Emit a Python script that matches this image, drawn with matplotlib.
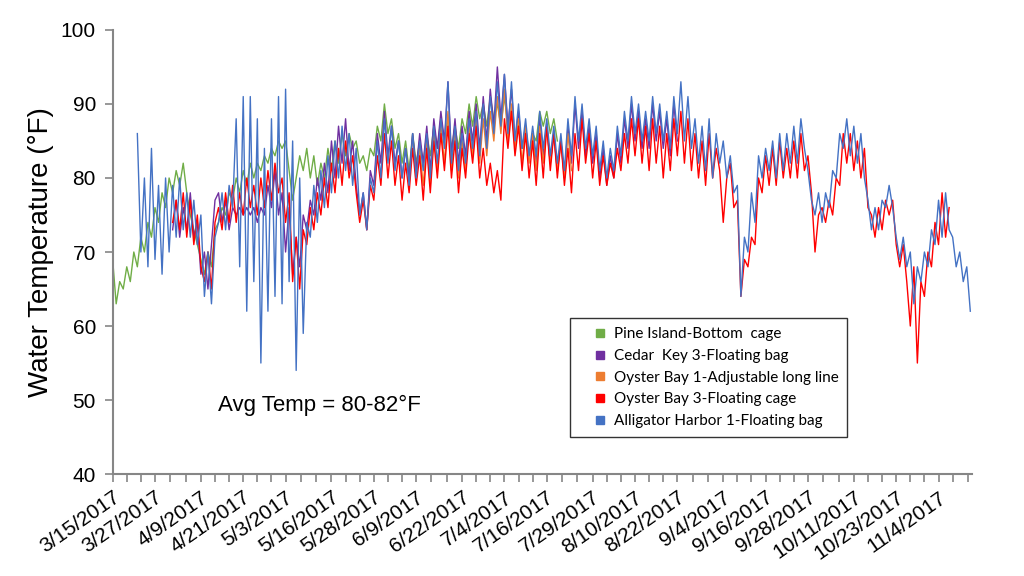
import numpy as np
import pandas as pd
import matplotlib
matplotlib.use('Agg')
import matplotlib.pyplot as plt
import matplotlib.dates as mdates
from matplotlib.lines import Line2D
from matplotlib.legend_handler import HandlerLine2D

plt.rcParams['font.family'] = ['Liberation Sans', 'DejaVu Sans']

# ----------
# Data (one reading per day)
#
green_start = '2017-03-15'   # Pine Island-Bottom cage
green_vals = [69, 63, 66, 65, 68, 66, 70, 68, 72, 70,
              74, 72, 76, 74, 78, 76, 80, 78, 81, 79,
              82, 78, 75, 73, 71, 69, 67, 70, 68, 73,
              74, 76, 75, 78, 77, 80, 78, 81, 79, 82,
              80, 82, 81, 83, 82, 84, 83, 85, 84, 85,
              81, 77, 80, 83, 81, 84, 80, 83, 79, 82,
              80, 84, 81, 85, 82, 86, 83, 86, 84, 85,
              82, 83, 81, 84, 83, 87, 85, 90, 86, 88,
              84, 86, 82, 85, 81, 86, 82, 85, 82, 86,
              83, 87, 84, 88, 85, 88, 84, 87, 84, 88,
              86, 90, 87, 91, 88, 90, 87, 91, 88, 90,
              87, 91, 87, 89, 85, 87, 84, 86, 83, 86,
              85, 89, 87, 89, 86, 88, 85]

purple_start = '2017-04-01'  # Cedar Key 3-Floating bag
purple_vals = [73, 77, 72, 76, 73, 78, 72, 74, 67, 70,
               65, 71, 77, 78, 74, 77, 73, 76, 75, 76,
               75, 76, 75, 76, 74, 76, 75, 79, 76, 81,
               75, 78, 70, 76, 67, 72, 68, 75, 73, 77,
               75, 80, 77, 82, 78, 85, 80, 87, 82, 88,
               81, 85, 79, 75, 78, 73, 81, 79, 86, 82,
               89, 83, 87, 82, 85, 80, 84, 80, 86, 81,
               86, 82, 87, 81, 88, 84, 89, 85, 93, 83,
               88, 82, 87, 83, 89, 85, 90, 84, 91, 85,
               92, 87, 95, 88, 94, 87, 92, 85, 89, 84,
               87, 83, 86, 82, 88, 83, 87, 82, 86, 81,
               85, 80, 87, 82, 90, 84, 89, 83, 87, 82,
               86, 80, 84, 79, 83, 80, 86, 82, 88, 84,
               90, 85, 89, 84, 88, 84, 90, 85, 89, 84,
               88, 83, 90, 85]

orange_start = '2017-06-08'  # Oyster Bay 1-Adjustable long line
orange_vals = [85, 80, 84, 79, 85, 79, 86, 81, 87, 82,
               89, 81, 86, 80, 85, 81, 87, 83, 88, 82,
               88, 83, 89, 85, 91, 86, 92, 85, 90, 84,
               88, 82, 87, 82, 86, 81, 87, 82, 87, 82,
               86, 81, 85, 80, 86, 81]

red_start = '2017-04-01'     # Oyster Bay 3-Floating cage
red_vals = [74, 77, 73, 78, 72, 77, 71, 75, 68, 66,
            70, 65, 74, 76, 73, 78, 74, 79, 74, 78,
            75, 80, 76, 79, 75, 80, 76, 81, 77, 82,
            78, 80, 74, 78, 66, 72, 65, 73, 71, 76,
            73, 78, 75, 80, 76, 82, 78, 84, 79, 85,
            80, 83, 78, 74, 77, 73, 79, 77, 83, 79,
            86, 80, 85, 79, 83, 77, 82, 78, 84, 79,
            83, 77, 84, 78, 85, 80, 86, 81, 87, 80,
            85, 78, 84, 80, 86, 82, 87, 80, 84, 79,
            82, 78, 81, 77, 88, 84, 89, 83, 87, 81,
            86, 80, 85, 79, 86, 80, 87, 81, 86, 80,
            85, 79, 84, 78, 86, 81, 88, 82, 86, 80,
            85, 79, 83, 79, 82, 80, 84, 81, 86, 82,
            88, 83, 88, 82, 87, 81, 88, 82, 87, 80,
            86, 81, 88, 83, 89, 82, 88, 81, 86, 80,
            85, 79, 86, 80, 84, 81, 74, 80, 82, 76,
            77, 64, 69, 68, 72, 71, 80, 78, 83, 79,
            84, 79, 85, 80, 84, 80, 85, 80, 86, 81,
            83, 78, 70, 75, 76, 74, 77, 75, 80, 79,
            86, 82, 86, 81, 85, 80, 84, 76, 75, 72,
            76, 73, 77, 75, 77, 71, 68, 71, 66, 60,
            68, 55, 66, 64, 70, 68, 74, 71, 78, 72, 76]

blue_start = '2017-03-22'    # Alligator Harbor 1-Floating bag
blue_vals = [86, 70, 80, 68, 84, 69, 79, 67, 80, 70,
             79, 72, 80, 73, 78, 72, 77, 71, 75, 64,
             70, 63, 72, 74, 78, 73, 79, 76, 88, 68,
             91, 62, 91, 66, 88, 55, 84, 62, 88, 64,
             91, 63, 92, 66, 85, 54, 80, 59, 74, 72,
             79, 74, 81, 76, 83, 78, 85, 80, 87, 81,
             86, 79, 84, 75, 78, 73, 80, 78, 85, 80,
             88, 82, 87, 81, 85, 80, 84, 79, 86, 80,
             85, 81, 86, 80, 87, 82, 88, 84, 93, 82,
             87, 81, 86, 82, 88, 84, 89, 83, 90, 84,
             91, 86, 93, 87, 94, 86, 93, 85, 90, 84,
             88, 83, 87, 83, 89, 84, 88, 83, 87, 82,
             86, 81, 88, 83, 91, 85, 90, 84, 88, 83,
             87, 81, 85, 80, 84, 81, 87, 83, 89, 85,
             91, 86, 90, 85, 89, 85, 91, 86, 90, 85,
             89, 84, 91, 86, 93, 85, 91, 84, 88, 82,
             87, 81, 88, 80, 86, 82, 85, 80, 83, 78,
             79, 64, 72, 70, 78, 74, 83, 80, 84, 81,
             85, 80, 86, 81, 86, 82, 87, 82, 88, 84,
             81, 77, 75, 78, 74, 78, 76, 81, 80, 86,
             84, 88, 83, 87, 82, 86, 80, 77, 73, 76,
             73, 77, 76, 79, 76, 72, 69, 72, 68, 70,
             63, 68, 66, 70, 68, 73, 71, 77, 72, 78,
             73, 72, 68, 70, 66, 68, 62]

date_labels = ['3/15/2017', '3/27/2017', '4/9/2017', '4/21/2017', '5/3/2017',
               '5/16/2017', '5/28/2017', '6/9/2017', '6/22/2017', '7/4/2017',
               '7/16/2017', '7/29/2017', '8/10/2017', '8/22/2017', '9/4/2017',
               '9/16/2017', '9/28/2017', '10/11/2017', '10/23/2017', '11/4/2017']

series = [
    ('Pine Island-Bottom  cage', green_start, green_vals, '#70AD47'),
    ('Cedar  Key 3-Floating bag', purple_start, purple_vals, '#7030A0'),
    ('Oyster Bay 1-Adjustable long line', orange_start, orange_vals, '#ED7D31'),
    ('Oyster Bay 3-Floating cage', red_start, red_vals, '#FF0000'),
    ('Alligator Harbor 1-Floating bag', blue_start, blue_vals, '#4472C4'),
]

# ----------
# Plot
#
fig = plt.figure(figsize=(10.24, 5.76), dpi=100, facecolor='white')
ax = fig.add_axes([0.110, 0.177, 0.839, 0.771])

handles = []
for name, start, vals, color in series:
    x = pd.date_range(start, periods=len(vals), freq='D')
    ax.plot(x, vals, color=color, lw=1.0)
    handles.append(Line2D([], [], marker='s', ls='none', color=color,
                          markersize=6, label=name))

ax.set_ylim(40, 100)
ax.set_yticks(range(40, 101, 10))
ax.set_xlim(pd.Timestamp('2017-03-15'), pd.Timestamp('2017-11-13 10:00'))

major = mdates.date2num(pd.to_datetime(date_labels, format='%m/%d/%Y'))
step = np.mean(np.diff(major))
minor = []
for a, b in zip(major[:-1], major[1:]):
    minor += [a + (b - a) / 3, a + 2 * (b - a) / 3]
minor += [major[-1] + step / 3, major[-1] + 2 * step / 3]
ax.set_xticks(major)
ax.set_xticklabels(date_labels, rotation=35, ha='right', va='top',
                   rotation_mode='anchor', fontsize=15)
ax.set_xticks(minor, minor=True)

for s in ['top', 'right']:
    ax.spines[s].set_visible(False)
for s in ['left', 'bottom']:
    ax.spines[s].set_color('#868686')
    ax.spines[s].set_linewidth(1.5)
ax.tick_params(axis='both', which='both', direction='out', length=6,
               width=1.2, color='#868686')
ax.tick_params(axis='y', labelsize=15, pad=6)
ax.tick_params(axis='x', pad=4)

ax.set_ylabel('Water Temperature (°F)', fontsize=20, labelpad=5)

ax.text(pd.Timestamp('2017-04-13 18:00'), 49.3, 'Avg Temp = 80-82°F',
        fontsize=16, ha='left', va='center')

leg = ax.legend(handles=handles, loc='upper left', bbox_to_anchor=(0.532, 0.351),
                borderaxespad=0, frameon=True, fancybox=False, edgecolor='black',
                prop={'family': 'Lato', 'size': 11}, handlelength=1.77,
                handletextpad=0.5, labelspacing=0.5, borderpad=0.6,
                handler_map={Line2D: HandlerLine2D(numpoints=1, xpad=0.96)})
leg.get_frame().set_linewidth(1.0)

fig.savefig('out.png', dpi=100, facecolor='white')
